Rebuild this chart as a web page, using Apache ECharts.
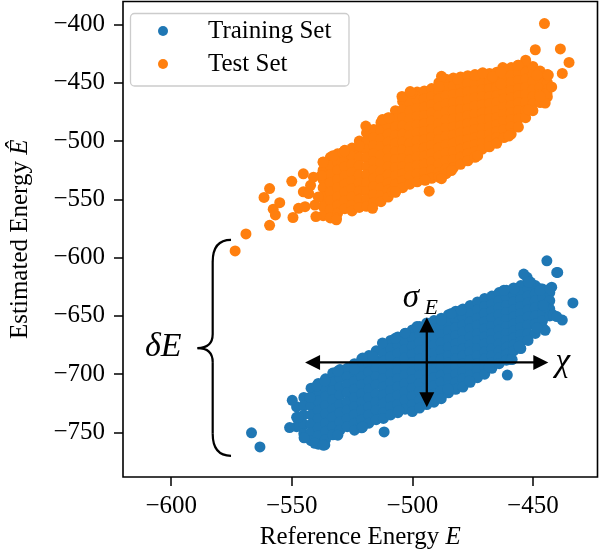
<!DOCTYPE html>
<html><head><meta charset="utf-8">
<script src="https://cdn.jsdelivr.net/npm/echarts@6/dist/echarts.min.js"></script>
<style>html,body{margin:0;padding:0;background:#fff}#c{width:600px;height:555px}</style>
</head><body><div id="c"></div>
<script>
const seriesNames = ['Training Set', 'Test Set'];
const seriesColors = ['#1f77b4', '#ff7f0e'];
const xTicks = [-600, -550, -500, -450];
const yTicks = [-750, -700, -650, -600, -550, -500, -450, -400];
const xRange = [-620, -423.2];
const yRange = [-788.2, -380.3];

// Training set: dense core read column by column [x, [y...]]
const trainingColumns = [
  [-548, [-728, -737, -745]],
  [-545, [-720, -727, -735, -743, -751]],
  [-542, [-712, -720, -727, -735, -743, -750, -757]],
  [-539, [-708, -716, -723, -731, -738, -746, -753, -760]],
  [-536, [-704, -712, -719, -727, -734, -742, -749, -756]],
  [-533, [-699, -707, -714, -722, -730, -737, -745, -752]],
  [-530, [-696, -703, -711, -718, -726, -733, -741, -748]],
  [-527, [-695, -702, -709, -716, -724, -731, -738, -745]],
  [-524, [-691, -698, -706, -713, -720, -728, -735, -742, -748]],
  [-521, [-687, -695, -702, -709, -717, -724, -731, -739, -746]],
  [-518, [-684, -691, -698, -706, -713, -720, -728, -735, -742]],
  [-515, [-680, -688, -695, -702, -709, -717, -724, -731, -739]],
  [-512, [-674, -682, -689, -696, -704, -711, -718, -725, -733, -738]],
  [-509, [-671, -678, -685, -693, -700, -707, -714, -721, -728, -735]],
  [-506, [-668, -675, -682, -690, -697, -704, -711, -718, -726, -733]],
  [-503, [-665, -672, -679, -686, -694, -701, -708, -715, -722, -730]],
  [-500, [-662, -669, -676, -683, -690, -698, -705, -712, -719, -726, -732]],
  [-497, [-659, -666, -673, -680, -687, -694, -701, -708, -715, -722, -729]],
  [-494, [-656, -663, -670, -677, -684, -691, -698, -705, -712, -719, -726]],
  [-491, [-654, -661, -668, -675, -682, -689, -696, -703, -710, -717, -724]],
  [-488, [-652, -659, -666, -673, -680, -687, -694, -701, -707, -714, -721]],
  [-485, [-649, -656, -663, -670, -677, -684, -690, -697, -704, -710, -716]],
  [-482, [-646, -653, -660, -667, -674, -680, -687, -694, -700, -707, -713]],
  [-479, [-644, -651, -658, -664, -671, -678, -684, -691, -698, -704, -711]],
  [-476, [-641, -648, -655, -661, -668, -675, -681, -688, -694, -701, -707]],
  [-473, [-638, -645, -652, -658, -665, -671, -678, -684, -691, -697, -703]],
  [-470, [-635, -642, -648, -655, -661, -668, -674, -681, -687, -694, -700]],
  [-467, [-633, -640, -646, -652, -659, -665, -671, -678, -684, -690, -695]],
  [-464, [-630, -637, -643, -649, -656, -662, -668, -674, -680, -686, -691]],
  [-461, [-628, -634, -641, -647, -653, -659, -665, -671, -677, -683, -688]],
  [-458, [-626, -632, -638, -645, -651, -657, -663, -669, -675, -680]],
  [-455, [-624, -630, -636, -642, -648, -654, -660, -666, -672, -678]],
  [-452, [-620, -627, -633, -639, -645, -651, -658, -665, -671]],
  [-449, [-624, -631, -637, -643, -650, -657, -665]],
  [-446, [-627, -634, -641, -648, -654, -660]],
  [-443, [-630, -637, -644, -650]]
];
// Training set: individually visible points around the edges
const trainingEdge = [
  [-566.7, -750.3], [-563.2, -762.4], [-549.8, -722.4], [-550.9, -745.8], [-547.2, -736.8],
  [-544.9, -754.6], [-540.4, -759.3], [-536.3, -760.7], [-530.9, -752.3], [-520.6, -745.3],
  [-511.7, -749.5], [-542.4, -719.9], [-539.7, -710.0], [-536.3, -705.8], [-530.9, -697.3],
  [-524.0, -695.9], [-520.6, -686.1], [-516.5, -684.6], [-512.4, -673.3], [-507.0, -669.1],
  [-502.9, -664.8], [-498.1, -659.2], [-487.9, -653.6], [-483.8, -647.9], [-479.7, -645.1],
  [-444.2, -602.8], [-439.7, -612.7], [-433.4, -638.9], [-452.4, -616.9], [-453.8, -614.1],
  [-442.2, -625.4], [-447.0, -626.8], [-444.9, -642.3], [-441.5, -649.3], [-437.8, -653.6],
  [-444.9, -662.4], [-455.2, -677.6], [-459.2, -687.5], [-460.6, -700.8], [-468.1, -693.7],
  [-476.3, -705.8], [-485.2, -712.7], [-493.4, -724.1], [-505.6, -731.1], [-537.0, -760.9],
  [-451.0, -621.0], [-457.8, -626.8], [-462.0, -628.0], [-448.3, -660.2], [-440.1, -650.6],
  [-445.6, -640.9], [-440.1, -612.7], [-451.7, -621.2], [-447.0, -628.2], [-442.9, -626.8],
  [-455.8, -676.1], [-458.6, -687.5]
];

// Test set: dense core read column by column [x, [y...]]
const testColumns = [
  [-537, [-518, -525, -533, -540, -548, -556, -564]],
  [-534, [-514, -521, -529, -536, -544, -551, -559, -566]],
  [-531, [-511, -518, -525, -533, -540, -548, -555, -562]],
  [-528, [-508, -515, -522, -530, -537, -544, -551, -558]],
  [-525, [-506, -513, -520, -527, -534, -541, -548, -555, -560]],
  [-522, [-500, -507, -514, -521, -529, -536, -543, -550, -557]],
  [-519, [-493, -500, -507, -514, -522, -529, -536, -543, -550, -556]],
  [-516, [-490, -497, -504, -511, -518, -525, -532, -539, -546, -553]],
  [-513, [-484, -491, -498, -505, -512, -519, -526, -533, -540, -547, -552]],
  [-510, [-480, -487, -494, -501, -508, -515, -522, -529, -536, -542, -548]],
  [-507, [-474, -481, -488, -495, -502, -509, -516, -523, -530, -537, -544]],
  [-504, [-466, -473, -480, -487, -494, -501, -508, -515, -522, -528, -534, -540]],
  [-501, [-460, -467, -474, -481, -488, -495, -502, -509, -516, -523, -530, -537]],
  [-498, [-458, -465, -472, -479, -486, -493, -500, -507, -514, -521, -528, -535]],
  [-495, [-457, -464, -471, -478, -485, -492, -499, -506, -513, -520, -527, -533]],
  [-492, [-455, -462, -469, -476, -483, -490, -497, -504, -511, -518, -525, -532]],
  [-489, [-450, -457, -464, -471, -478, -485, -492, -499, -506, -513, -520, -527, -531]],
  [-486, [-447, -454, -461, -468, -475, -482, -489, -496, -503, -510, -517, -524, -528]],
  [-483, [-446, -453, -460, -467, -474, -481, -488, -495, -502, -509, -516, -523]],
  [-480, [-445, -452, -459, -466, -473, -480, -487, -493, -500, -507, -514, -520]],
  [-477, [-444, -451, -458, -465, -472, -478, -485, -492, -499, -505, -511, -517]],
  [-474, [-443, -450, -457, -463, -470, -477, -484, -490, -497, -503, -509, -514]],
  [-471, [-442, -449, -456, -462, -469, -476, -482, -489, -495, -502, -507]],
  [-468, [-442, -449, -455, -462, -468, -475, -481, -488, -494, -500, -505]],
  [-465, [-441, -448, -454, -461, -467, -474, -480, -486, -492, -497, -502]],
  [-462, [-438, -445, -451, -458, -464, -471, -477, -483, -490, -497]],
  [-459, [-437, -444, -450, -457, -463, -470, -476, -482, -488, -494]],
  [-456, [-435, -442, -448, -455, -461, -467, -474, -481, -488]],
  [-453, [-434, -441, -447, -454, -460, -467, -474, -480]],
  [-450, [-436, -443, -449, -456, -462, -468, -474]],
  [-447, [-440, -447, -454, -460, -467]],
  [-444, [-443, -450, -456, -462]]
];
// Test set: individually visible points around the edges
const testEdge = [
  [-573.5, -594.3], [-569.0, -579.7], [-559.2, -572.3], [-561.5, -548.4], [-559.2, -540.8],
  [-557.7, -558.5], [-555.0, -552.9], [-556.8, -563.4], [-549.5, -565.6], [-550.0, -534.6],
  [-545.2, -528.1], [-545.2, -543.6], [-547.2, -557.7], [-544.5, -556.3], [-540.4, -554.9],
  [-540.0, -564.8], [-542.2, -538.0], [-537.0, -518.2], [-537.7, -529.5], [-532.9, -512.6],
  [-531.5, -566.2], [-531.5, -567.6], [-528.8, -509.8], [-519.3, -487.2], [-512.4, -481.6],
  [-504.3, -461.8], [-500.2, -459.0], [-509.7, -480.2], [-528.1, -508.4], [-522.0, -504.1],
  [-493.0, -543.0], [-508.3, -543.6], [-445.2, -399.2], [-449.0, -421.7], [-438.6, -421.0],
  [-435.0, -432.6], [-437.8, -442.0], [-453.0, -430.7], [-456.2, -435.0], [-462.5, -437.0],
  [-444.9, -467.4], [-444.2, -459.0], [-442.2, -453.6], [-447.0, -461.8], [-443.6, -443.4],
  [-448.3, -443.4], [-451.9, -473.1], [-460.0, -495.7], [-472.9, -512.6], [-483.8, -525.3],
  [-487.9, -532.3], [-494.7, -533.7], [-507.0, -543.6], [-516.5, -557.7], [-487.9, -444.5],
  [-488.9, -453.3], [-481.2, -447.0], [-500.9, -457.6], [-473.9, -443.8], [-470.8, -441.5],
  [-466.7, -444.8], [-463.3, -440.6], [-463.3, -451.0], [-543.0, -545.0], [-541.0, -531.0],
  [-539.0, -548.0]
];

// Annotation anchors (data coordinates)
const chiArrow = [[-544.5, -689.9], [-443.6, -689.9]];
const sigmaArrow = [[-494.0, -651.4], [-494.0, -728.3]];
const braceTop = [-575.2, -584.8];
const braceBottom = [-575.2, -770.0];
const braceTip = [-589.1, -677.6];
const braceSpineX = -582.8;
const sigmaLabelPos = [-500.6, -635.0];
const sigmaSubPos = [-492.2, -643.2];
const chiLabelPos = [-437.6, -689.5];
const deltaLabelPos = [-603.3, -676.5];

function expand(cols, extra) {
  const out = [];
  cols.forEach(([x, ys]) => ys.forEach(y => out.push([x, y])));
  return out.concat(extra);
}
const trainingData = expand(trainingColumns, trainingEdge);
const testData = expand(testColumns, testEdge);

const FONT = '"Liberation Serif", "DejaVu Serif", serif';
const FS = 25;
const fmt = v => (v < 0 ? '\u2212' : '') + Math.abs(v);

const chart = echarts.init(document.getElementById('c'), null, {renderer: 'canvas'});
chart.setOption({
  animation: false,
  textStyle: {fontFamily: FONT},
  grid: {left: 117, top: 1.5, width: 480.5, height: 481, show: true, borderColor: '#000', borderWidth: 1.6, backgroundColor: 'transparent'},
  xAxis: {
    type: 'value', min: xRange[0], max: xRange[1],
    splitLine: {show: false}, axisLine: {show: false, onZero: false},
    axisTick: {show: true, length: 9, customValues: xTicks, lineStyle: {color: '#000', width: 1.5}},
    axisLabel: {customValues: xTicks, margin: 17, fontSize: FS, color: '#000', fontFamily: FONT, formatter: fmt},
    name: '{n|Reference Energy }{i|E}', nameLocation: 'middle', nameGap: 48,
    nameTextStyle: {fontSize: FS, color: '#000', fontFamily: FONT,
      rich: {n: {fontSize: FS, fontFamily: FONT, color: '#000'}, i: {fontSize: FS, fontFamily: FONT, fontStyle: 'italic', color: '#000'}}}
  },
  yAxis: {
    type: 'value', min: yRange[0], max: yRange[1],
    splitLine: {show: false}, axisLine: {show: false, onZero: false},
    axisTick: {show: true, length: 9, customValues: yTicks, lineStyle: {color: '#000', width: 1.5}},
    axisLabel: {customValues: yTicks, margin: 18, fontSize: FS, color: '#000', fontFamily: FONT, formatter: fmt},
    name: '{n|Estimated Energy }{i|Ê}', nameLocation: 'middle', nameGap: 90,
    nameTextStyle: {fontSize: FS, color: '#000', fontFamily: FONT,
      rich: {n: {fontSize: FS, fontFamily: FONT, color: '#000'}, i: {fontSize: FS, fontFamily: FONT, fontStyle: 'italic', color: '#000'}}}
  },
  legend: {
    left: 158, top: 18.5, orient: 'vertical', itemWidth: 10, itemHeight: 10, itemGap: 8, padding: 0,
    icon: 'circle', data: seriesNames,
    formatter: name => '{sp|}' + name,
    textStyle: {fontSize: FS, lineHeight: 25, color: '#000', fontFamily: FONT,
      rich: {sp: {width: 35}}}
  },
  series: [
    {type: 'scatter', name: seriesNames[0], data: trainingData, symbol: 'circle', symbolSize: 11,
     itemStyle: {color: seriesColors[0], opacity: 1}, emphasis: {disabled: true}},
    {type: 'scatter', name: seriesNames[1], data: testData, symbol: 'circle', symbolSize: 11,
     itemStyle: {color: seriesColors[1], opacity: 1}, emphasis: {disabled: true}}
  ]
});

const px = p => chart.convertToPixel({gridIndex: 0}, p);
const g = [];
// legend frame
g.push({type: 'rect', z: 3, shape: {x: 130.5, y: 13.5, width: 218.5, height: 72.5, r: 4},
  style: {fill: 'rgba(255,255,255,0.8)', stroke: '#cccccc', lineWidth: 1.3}});
const LW = 2.3, AL = 15, AH = 7.5;
const blackLine = {stroke: '#000', lineWidth: LW, fill: 'none'};
// chi arrow
{
  const [x1, y] = px(chiArrow[0]); const [x2] = px(chiArrow[1]);
  g.push({type: 'line', z: 10, shape: {x1: x1 + 8, y1: y, x2: x2 - 8, y2: y}, style: blackLine});
  g.push({type: 'polygon', z: 10, shape: {points: [[x1, y], [x1 + AL, y - AH], [x1 + AL, y + AH]]}, style: {fill: '#000'}});
  g.push({type: 'polygon', z: 10, shape: {points: [[x2, y], [x2 - AL, y - AH], [x2 - AL, y + AH]]}, style: {fill: '#000'}});
}
// sigma arrow
{
  const [x, y1] = px(sigmaArrow[0]); const [, y2] = px(sigmaArrow[1]);
  g.push({type: 'line', z: 10, shape: {x1: x, y1: y1 + 8, x2: x, y2: y2 - 8}, style: blackLine});
  g.push({type: 'polygon', z: 10, shape: {points: [[x, y1], [x - AH, y1 + AL], [x + AH, y1 + AL]]}, style: {fill: '#000'}});
  g.push({type: 'polygon', z: 10, shape: {points: [[x, y2], [x - AH, y2 - AL], [x + AH, y2 - AL]]}, style: {fill: '#000'}});
}
// brace
{
  const [xr, yt] = px(braceTop); const [, yb] = px(braceBottom); const [xt, yc] = px(braceTip);
  const xm = px([braceSpineX, braceTip[1]])[0];
  const bs = {stroke: '#000', lineWidth: 2.2, fill: 'none'};
  const q = (x1, y1, cx, cy, x2, y2) => ({type: 'bezierCurve', z: 10, shape: {x1, y1, cpx1: cx, cpy1: cy, x2, y2}, style: bs});
  const l = (x1, y1, x2, y2) => ({type: 'line', z: 10, shape: {x1, y1, x2, y2}, style: bs});
  g.push(q(xr, yt, xm, yt, xm, yt + 22));
  g.push(l(xm, yt + 22, xm, yc - 14));
  g.push(q(xm, yc - 14, xm, yc, xt, yc));
  g.push(q(xt, yc, xm, yc, xm, yc + 14));
  g.push(l(xm, yc + 14, xm, yb - 22));
  g.push(q(xm, yb - 22, xm, yb, xr, yb));
}
// labels
const txt = (pos, text, size) => {
  const [x, y] = px(pos);
  return {type: 'text', z: 11, style: {x, y, text, font: `italic ${size}px ${FONT}`, fill: '#000', align: 'center', verticalAlign: 'middle'}};
};
g.push(txt(sigmaLabelPos, 'σ', 33));
g.push(txt(sigmaSubPos, 'E', 22));
g.push(txt(chiLabelPos, 'χ', 33));
g.push(txt(deltaLabelPos, 'δE', 34));
chart.setOption({graphic: g});
</script>
</body></html>
